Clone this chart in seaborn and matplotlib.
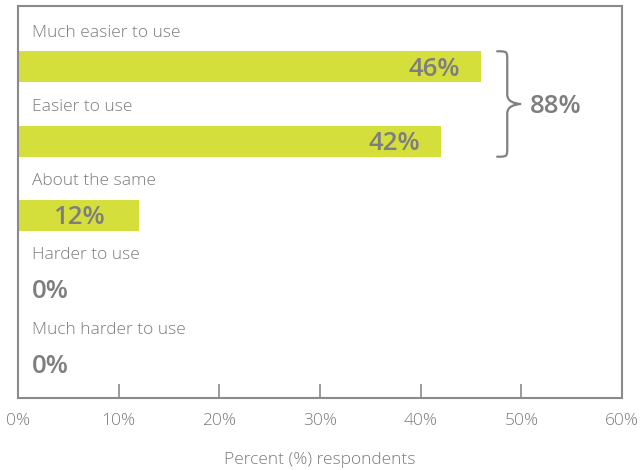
import matplotlib
matplotlib.use("Agg")
import matplotlib.pyplot as plt
from matplotlib.path import Path
from matplotlib.patches import PathPatch
import seaborn as sns
import pandas as pd

# Survey responses
categories = ["Much easier to use", "Easier to use", "About the same",
              "Harder to use", "Much harder to use"]
values = [46, 42, 12, 0, 0]
bracket_rows = [0, 1]
bracket_label = "88%"
x_ticks = [0, 10, 20, 30, 40, 50, 60]
x_tick_labels = ["0%", "10%", "20%", "30%", "40%", "50%", "60%"]
x_label = "Percent (%) respondents"

BAR = "#d5df3c"
GREY = "#8a8a8c"
VAL = "#7e7e80"
TXT = "#7c7c7e"

sns.set_theme(style="white")
plt.rcParams["font.family"] = ["Open Sans", "DejaVu Sans"]

fig = plt.figure(figsize=(6.42, 4.70), dpi=100)
ax = fig.add_axes([18 / 642, 1 - 398 / 470, 604 / 642, 392 / 470])

df = pd.DataFrame({"category": categories, "value": values})
bar_w = 0.42
sns.barplot(data=df, x="value", y="category", orient="h", color=BAR,
            width=bar_w, saturation=1, linewidth=0, ax=ax)

ax.set_xlim(0, 60)
ax.set_ylim(4.46, -0.82)

# category captions and value labels
for i, (cat, v) in enumerate(zip(categories, values)):
    ax.text(1.4, i - 0.46, cat, ha="left", va="center", fontsize=12.5,
            color=TXT, fontweight=300)
    lab = f"{v}%"
    kw = dict(fontsize=18.5, fontweight="semibold", color=VAL, va="center")
    y = i + 0.03
    if v == 0:
        ax.text(1.4, y, lab, ha="left", **kw)
    elif v < 20:
        ax.text(v / 2, y, lab, ha="center", **kw)
    else:
        ax.annotate(lab, (v, y), xytext=(-15, 0), textcoords="offset points",
                    ha="right", **kw)

# curly brace grouping the top two rows
top = bracket_rows[0] - bar_w / 2
bot = bracket_rows[-1] + bar_w / 2
mid = (top + bot) / 2
x0 = max(values[r] for r in bracket_rows) + 1.6
x1 = x0 + 1.0
x2 = x0 + 2.3
dy = 0.13
verts = [
    (x0, top),
    (x1, top), (x1, top), (x1, top + dy),
    (x1, mid - dy),
    (x1, mid - 0.03), (x2 - 0.6, mid - 0.01), (x2, mid),
    (x2 - 0.6, mid + 0.01), (x1, mid + 0.03), (x1, mid + dy),
    (x1, bot - dy),
    (x1, bot), (x1, bot), (x0, bot),
]
codes = [Path.MOVETO,
         Path.CURVE4, Path.CURVE4, Path.CURVE4,
         Path.LINETO,
         Path.CURVE4, Path.CURVE4, Path.CURVE4,
         Path.CURVE4, Path.CURVE4, Path.CURVE4,
         Path.LINETO,
         Path.CURVE4, Path.CURVE4, Path.CURVE4]
ax.add_patch(PathPatch(Path(verts, codes), fill=False, edgecolor="#808080",
                       lw=1.6, capstyle="round", joinstyle="round"))
ax.text(x2 + 0.9, mid + 0.03, bracket_label, ha="left", va="center",
        fontsize=18.5, fontweight="semibold", color=VAL)

# axes styling
ax.set_xticks(x_ticks)
ax.set_xticklabels(x_tick_labels)
ax.set_yticks([])
ax.set_ylabel("")
ax.set_xlabel(x_label, fontsize=12.5, color=TXT, fontweight=300, labelpad=16)
ax.tick_params(axis="x", direction="in", length=10, width=1.2, color=GREY,
               labelsize=12.5, labelcolor=TXT, pad=11, bottom=True)
for lab in ax.get_xticklabels():
    lab.set_fontweight(300)
for s in ax.spines.values():
    s.set_visible(True)
    s.set_color(GREY)
    s.set_linewidth(1.5)

fig.savefig("out.png", dpi=100)
